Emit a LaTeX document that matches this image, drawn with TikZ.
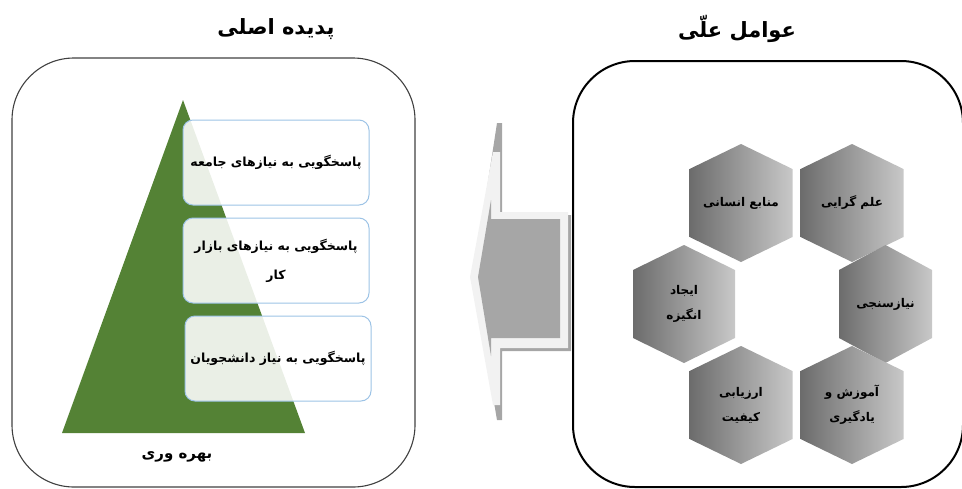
\documentclass[tikz,border=0pt]{standalone}
\usepackage{fontspec}
\setmainfont{DejaVu Sans}
\newfontfamily\fafont[Script=Arabic]{DejaVu Sans}
\TeXXeTstate=1
\usepackage{tikz}
\usetikzlibrary{positioning}
\definecolor{pyrgreen}{RGB}{84,130,53}
\definecolor{boxblue}{RGB}{157,195,230}
\definecolor{hexdark}{RGB}{108,108,108}
\definecolor{hexlight}{RGB}{200,200,200}
\definecolor{arrowgray}{RGB}{166,166,166}
\definecolor{arrowlight}{RGB}{242,242,242}
\definecolor{framegray}{RGB}{64,64,64}
\newcommand{\fa}[1]{\beginR#1\endR}

\begin{document}
\begin{tikzpicture}[x=1pt, y=-1pt,
    title/.style={font=\fafont\bfseries\fontsize{21}{25}\selectfont},
    frame/.style={rectangle, rounded corners=62pt, line width=1.1pt, draw=framegray},
    level/.style={rectangle, rounded corners=10pt, draw=boxblue, line width=1pt,
                  fill=white, fill opacity=0.88, text opacity=1,
                  minimum width=186pt, minimum height=85pt, align=center,
                  font=\fafont\bfseries\fontsize{12.5}{29}\selectfont},
    hexfill/.style={left color=hexdark, right color=hexlight},
    hextext/.style={align=center, font=\fafont\bfseries\fontsize{12}{25}\selectfont}
]
\useasboundingbox (0,0) rectangle (962,488);

\node[title] (effecttitle) at (276,29) {\fa{پدیده اصلی}};
\node[title] (causetitle) at (737,29) {\fa{عوامل علّی}};

\node[frame, minimum width=403pt, minimum height=429pt] (effectbox) at (213.5,272.5) {};
\node[frame, draw=black, line width=2pt, minimum width=390pt, minimum height=426pt] (causebox) at (768,274) {};

\fill[pyrgreen] (183,100) -- (305,433) -- (62,433) -- cycle;
\node[level] (society) at (276,162.5) {\fa{پاسخگویی به نیازهای جامعه}};
\node[level, below=12pt of society] (market) {\fa{پاسخگویی به نیازهای بازار}\\\fa{کار}};
\node[level, below=12pt of market, xshift=2pt] (students) {\fa{پاسخگویی به نیاز دانشجویان}};
\node[font=\fafont\bfseries\fontsize{15}{18}\selectfont] (productivity) at (177,457) {\fa{بهره وری}};

\fill[arrowgray] (473,279) -- (497,123) -- (502,123) -- (502,215) -- (571,215) -- (571,351)
    -- (502,351) -- (502,420) -- (497,420) -- cycle;
\fill[arrowlight] (470,277) -- (493,152) -- (500,152) -- (500,212) -- (568,212) -- (568,348)
    -- (500,348) -- (500,405) -- (493,405) -- cycle;
\fill[arrowgray] (478,277) -- (491,200) -- (491,219) -- (560,219) -- (560,338) -- (491,338)
    -- (491,356) -- cycle;

\foreach \nm/\cx/\cy/\hw/\txt in {
    humanres/741/203/51.5/{\fa{منابع انسانی}},
    science/852/203/51.5/{\fa{علم گرایی}},
    needs/885.5/304/46.5/{\fa{نیازسنجی}},
    learning/852/405/51.5/{\fa{آموزش و}\\\fa{یادگیری}},
    quality/741/405/51.5/{\fa{ارزیابی}\\\fa{کیفیت}},
    motivation/684/304/51/{\fa{ایجاد}\\\fa{انگیزه}}} {
  \shade[hexfill] (\cx,\cy-59) -- (\cx+\hw,\cy-34) -- (\cx+\hw,\cy+34) -- (\cx,\cy+59)
      -- (\cx-\hw,\cy+34) -- (\cx-\hw,\cy-34) -- cycle;
  \node[hextext] (\nm) at (\cx,\cy) {\txt};
}
\end{tikzpicture}
\end{document}
